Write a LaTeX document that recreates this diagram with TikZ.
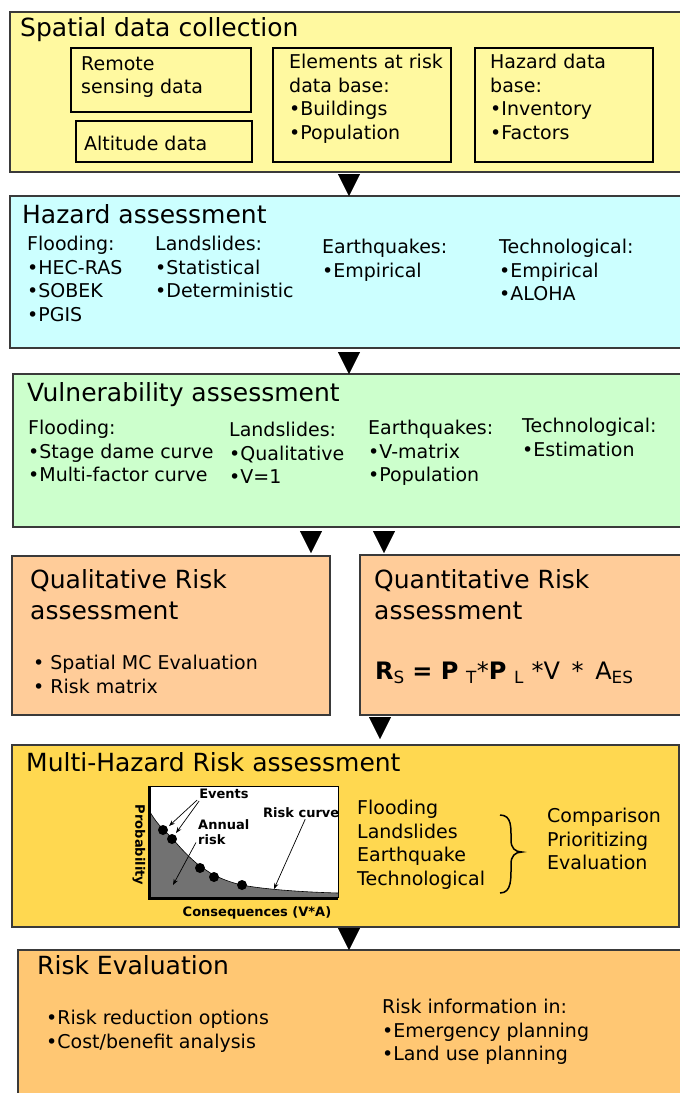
\documentclass[tikz,border=0pt]{standalone}
\usepackage{fontspec}
\setmainfont{DejaVu Sans}
\usetikzlibrary{arrows.meta}
\definecolor{edge}{HTML}{3A3A3A}
\definecolor{cA}{HTML}{FFF9A0}
\definecolor{cB}{HTML}{CCFFFF}
\definecolor{cC}{HTML}{CCFFCC}
\definecolor{cD}{HTML}{FFCC99}
\definecolor{cE}{HTML}{FFD850}
\definecolor{cF}{HTML}{FFC773}
\definecolor{curvegray}{HTML}{727272}
\newcommand{\bodyfont}{\fontsize{19bp}{23.5bp}\selectfont}
\newcommand{\titlefont}{\fontsize{25bp}{31bp}\selectfont}
\newcommand{\graphfont}{\fontsize{13bp}{15bp}\selectfont\bfseries}
\tikzset{
  x=1bp, y=-1bp,
  panel/.style={draw=edge, line width=1.6bp, rectangle, inner sep=0pt},
  subbox/.style={draw=black, line width=1.3bp, rectangle, inner sep=0pt},
  ttl/.style={anchor=base west, inner sep=0pt, font=\titlefont},
  ttlm/.style={anchor=north west, inner sep=0pt, align=left, font=\titlefont},
  txt/.style={anchor=north west, inner sep=0pt, align=left, font=\bodyfont},
  txtl/.style={anchor=west, inner sep=0pt, font=\bodyfont},
  gtxt/.style={inner sep=0pt, font=\graphfont},
  conn/.style={-{Triangle[width=22bp,length=22bp]}, line width=0.4bp, black},
  thin arrow/.style={-{Stealth[length=6bp,width=4.5bp]}, line width=0.7bp, black},
  dot/.style={circle, fill=black, inner sep=0pt, minimum size=10bp}
}
\begin{document}
\begin{tikzpicture}
\useasboundingbox (0,0) rectangle (680,1093);
% ---------- panels ----------
\path[panel, fill=cA] (10,12) rectangle (684,172);
\path[panel, fill=cB] (10,196) rectangle (684,348);
\path[panel, fill=cC] (13,374) rectangle (684,527);
\path[panel, fill=cD] (12,556) rectangle (330,715);
\path[panel, fill=cD] (360,555) rectangle (684,715);
\path[panel, fill=cE] (12,745) rectangle (679,927);
\path[panel, fill=cF] (18,950) rectangle (684,1100);
% named points on panel edges
\coordinate (b1s) at (349,172);
\coordinate (b2n) at (349,196);
\coordinate (b2s) at (349,348);
\coordinate (b3n) at (349,374);
\coordinate (b3sL) at (311,527);
\coordinate (b4aN) at (311,553);
\coordinate (b3sR) at (384,527);
\coordinate (b4bN) at (384,553);
\coordinate (b4bS) at (380,715);
\coordinate (b5n) at (380,739);
\coordinate (b5s) at (349,927);
\coordinate (b6n) at (349,950);
% ---------- Spatial data collection ----------
\node[ttl] (t1) at (20,36.5) {Spatial data collection};
\path[subbox, fill=cA] (71,48) rectangle (251,112);
\path[subbox, fill=cA] (76,121) rectangle (252,162);
\path[subbox, fill=cA] (273,48) rectangle (451,162);
\path[subbox, fill=cA] (475,48) rectangle (653,162);
\node[txt] (rs) at (81,56) {Remote\\sensing data};
\node[txtl] (alt) at (84,143) {Altitude data};
\node[txt] (el) at (289,54) {Elements at risk\\data base:\\•Buildings\\•Population};
\node[txt] (hz) at (490,54) {Hazard data\\base:\\•Inventory\\•Factors};
% ---------- Hazard assessment ----------
\node[ttl] (t2) at (22,223.5) {Hazard assessment};
\node[txt] (h1) at (27,236) {Flooding:\\•HEC-RAS\\•SOBEK\\•PGIS};
\node[txt] (h2) at (155,236) {Landslides:\\•Statistical\\•Deterministic};
\node[txt] (h3) at (322,239) {Earthquakes:\\•Empirical};
\node[txt] (h4) at (499,239) {Technological:\\•Empirical\\•ALOHA};
% ---------- Vulnerability assessment ----------
\node[ttl] (t3) at (27,401.5) {Vulnerability assessment};
\node[txt] (v1) at (28,420) {Flooding:\\•Stage dame curve\\•Multi-factor curve};
\node[txt] (v2) at (229,422) {Landslides:\\•Qualitative\\•V=1};
\node[txt] (v3) at (368,420) {Earthquakes:\\•V-matrix\\•Population};
\node[txt] (v4) at (522,418) {Technological:\\•Estimation};
% ---------- Qualitative / Quantitative ----------
\node[ttlm] (t4a) at (30,569) {Qualitative Risk\\assessment};
\node[txt] (q1) at (33,655) {• Spatial MC Evaluation\\• Risk matrix};
\node[ttlm] (t4b) at (374,569) {Quantitative Risk\\assessment};
\node[anchor=west, inner sep=0pt, font=\fontsize{24bp}{28bp}\selectfont] (formula) at (375,673)
  {\textbf{R}\textsubscript{S} \textbf{= P} \textsubscript{T}*\textbf{P} \textsubscript{L} *V\, *\, A\textsubscript{ES}};
% ---------- Multi-Hazard ----------
\node[ttl] (t5) at (26,771.5) {Multi-Hazard Risk assessment};
% graph
\fill[white] (149,786) rectangle (338,897);
\draw[line width=0.8bp, black] (149,786) rectangle (338,897);
\fill[curvegray] (150,812) .. controls (156,822) and (160,826) .. (163,829)
   .. controls (167,833) and (170,836) .. (172,838)
   .. controls (182,850) and (192,860) .. (200,866)
   .. controls (206,870) and (210,873) .. (214,875)
   .. controls (224,880) and (233,883) .. (242,885)
   .. controls (262,889) and (300,892) .. (338,893)
   -- (338,897) -- (150,897) -- cycle;
\draw[line width=0.6bp] (150,812) .. controls (156,822) and (160,826) .. (163,829)
   .. controls (167,833) and (170,836) .. (172,838)
   .. controls (182,850) and (192,860) .. (200,866)
   .. controls (206,870) and (210,873) .. (214,875)
   .. controls (224,880) and (233,883) .. (242,885)
   .. controls (262,889) and (300,892) .. (338,893);
\draw[line width=3bp, black] (149,786) -- (149,898) -- (338,898);
\node[dot] (d1) at (163,830) {};
\node[dot] (d2) at (172,839) {};
\node[dot] (d3) at (200,868) {};
\node[dot] (d4) at (214,877) {};
\node[dot] (d5) at (242,885) {};
\node[gtxt] (ev) at (224,794) {Events};
\node[gtxt, anchor=north west, align=left] (ar) at (198,819) {Annual\\risk};
\node[gtxt, anchor=west] (rc) at (263,813) {Risk curve};
\node[gtxt] (cons) at (257,913) {Consequences (V*A)};
\node[gtxt, rotate=-90] (prob) at (139,845) {Probability};
\coordinate (ev1) at (169,826);
\coordinate (ev2) at (176,833);
\coordinate (arr1) at (173,885);
\coordinate (rc1) at (274,889);
\draw[thin arrow] (ev.south west) ++(-2,1) -- (ev1);
\draw[thin arrow] (ev.south west) ++(0,2) -- (ev2);
\draw[thin arrow] (ar.south west) ++(-2,-2) -- (arr1);
\draw[thin arrow] (rc.south) ++(4,1) -- (rc1);
% lists
\node[txt] (hl) at (357,800) {Flooding\\Landslides\\Earthquake\\Technological};
\draw[line width=1.5bp, black] (500,815) .. controls (512,815) and (511,828) .. (511,840)
   .. controls (511,848) and (515,852) .. (522,852)
   .. controls (515,852) and (511,856) .. (511,864)
   .. controls (511,878) and (512,893) .. (500,893);
\node[txt] (cp) at (547,808) {Comparison\\Prioritizing\\Evaluation};
% ---------- Risk Evaluation ----------
\node[ttl] (t6) at (37,974.5) {Risk Evaluation};
\node[txt] (re1) at (46,1010) {•Risk reduction options\\•Cost/benefit analysis};
\node[txt] (re2) at (382,999) {Risk information in:\\•Emergency planning\\•Land use planning};
% ---------- connectors ----------
\draw[conn, shorten <=2bp] (b1s) -- (b2n);
\draw[conn, shorten <=4bp] (b2s) -- (b3n);
\draw[conn, shorten <=4bp] (b3sL) -- (b4aN);
\draw[conn, shorten <=4bp] (b3sR) -- (b4bN);
\draw[conn, shorten <=2bp] (b4bS) -- (b5n);
\draw[conn, shorten <=1bp] (b5s) -- (b6n);
\end{tikzpicture}
\end{document}
